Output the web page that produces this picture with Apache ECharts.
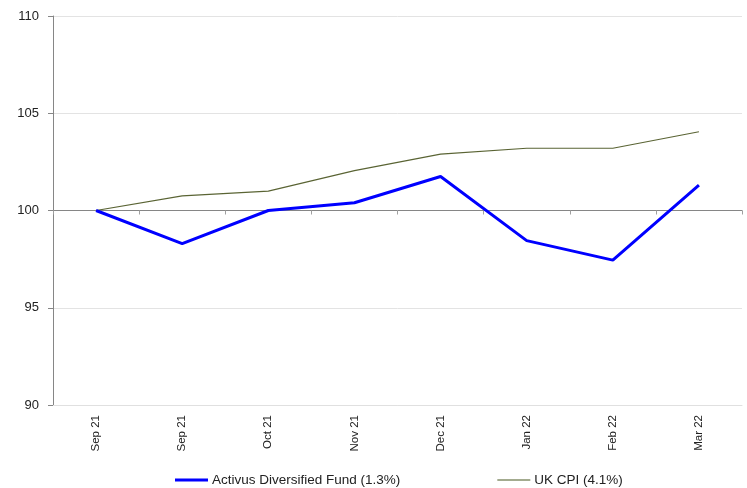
<!DOCTYPE html>
<html><head><meta charset="utf-8">
<script src="https://cdn.jsdelivr.net/npm/echarts@6/dist/echarts.min.js"></script>
<style>html,body{margin:0;padding:0;background:#fff}#c{width:747px;height:488px}</style>
</head><body><div id="c"></div>
<script>
const categories = ['Sep 21','Sep 21','Oct 21','Nov 21','Dec 21','Jan 22','Feb 22','Mar 22'];
const fundValues = [100, 98.3, 100.0, 100.4, 101.75, 98.45, 97.45, 101.3];
const cpiValues = [100, 100.75, 101.0, 102.05, 102.9, 103.2, 103.2, 104.05];
const yTicks = [90, 95, 100, 105, 110];
const fundName = 'Activus Diversified Fund (1.3%)';
const cpiName = 'UK CPI (4.1%)';
const baseValue = 100;

const FONT = 'Liberation Sans';
const chart = echarts.init(document.getElementById('c'), null, {renderer:'canvas'});
chart.setOption({
  animation:false,
  backgroundColor:'#fff',
  grid:{left:53, right:5, top:16, bottom:83, containLabel:false},
  legend:{
    left:170, top:468, padding:5, itemGap:97, itemWidth:33, itemHeight:14,
    textStyle:{fontFamily:FONT, fontSize:13.5, color:'#222', padding:[0,0,0,-1]},
    data:[
      {name:fundName, icon:'path://M0,0 L33,0 L33,3 L0,3 Z', itemStyle:{color:'#0000ff'}},
      {name:cpiName, icon:'path://M0,0 L33,0 L33,2 L0,2 Z', itemStyle:{color:'#a3ab8f'}}
    ]
  },
  xAxis:[
    {type:'category', data:categories, boundaryGap:true, position:'bottom',
     axisLine:{show:true, onZero:false, lineStyle:{color:'#e0e0e0'}}, axisTick:{show:false},
     axisLabel:{rotate:90, fontFamily:FONT, fontSize:11.5, color:'#222', margin:10, interval:0, verticalAlign:'middle'},
     splitLine:{show:false}},
    {type:'category', data:categories, boundaryGap:true, position:'bottom',
     axisLine:{show:true, onZero:true, onZeroAxisIndex:1, lineStyle:{color:'#868686', width:1}},
     axisTick:{show:true, length:4, lineStyle:{color:'#a0a0a0'}},
     axisLabel:{show:false}, splitLine:{show:false}}
  ],
  yAxis:[
    {type:'value', min:yTicks[0], max:yTicks[yTicks.length-1], interval:5,
     axisLine:{show:true, lineStyle:{color:'#868686'}},
     axisTick:{show:true, length:5, lineStyle:{color:'#868686'}},
     axisLabel:{fontFamily:FONT, fontSize:13, color:'#222', margin:14},
     splitLine:{show:true, lineStyle:{color:'#e3e3e3', width:1}}},
    {type:'value', min:yTicks[0]-baseValue, max:yTicks[yTicks.length-1]-baseValue, show:false,
     splitLine:{show:false}}
  ],
  series:[
    {name:fundName, type:'line', data:fundValues, xAxisIndex:0, yAxisIndex:0,
     symbol:'none', lineStyle:{color:'#0000ff', width:3}, itemStyle:{color:'#0000ff'}, z:3},
    {name:cpiName, type:'line', data:cpiValues, xAxisIndex:0, yAxisIndex:0,
     symbol:'none', lineStyle:{color:'#5a6434', width:1.2}, itemStyle:{color:'#a3ab8f'}, z:2}
  ]
});
</script></body></html>
